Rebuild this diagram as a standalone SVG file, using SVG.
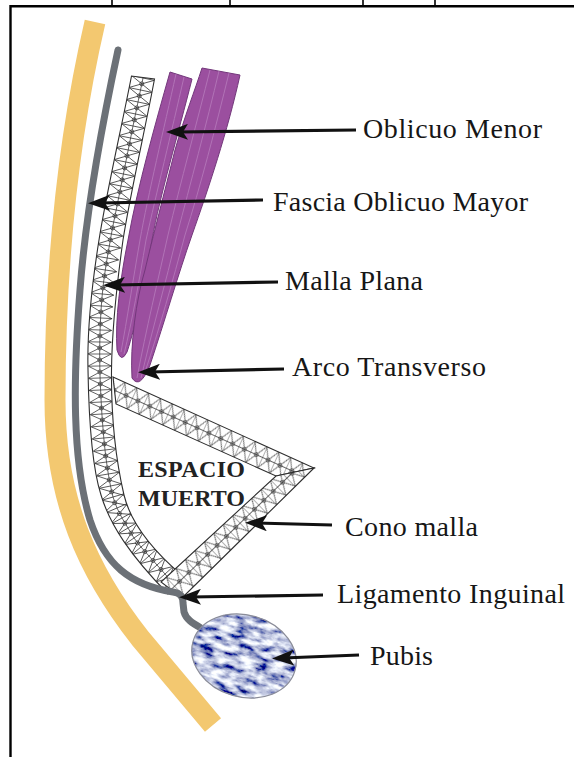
<svg xmlns="http://www.w3.org/2000/svg" width="574" height="757" viewBox="0 0 574 757">
  <defs>
    <style>
      .lbl{font-family:"Liberation Serif","Times New Roman",serif;font-size:28px;fill:#161616}
      .zone{font-family:"Liberation Serif","Times New Roman",serif;font-size:24px;font-weight:bold;fill:#222}
      .lead{stroke:#111;stroke-width:3.2;fill:none;marker-end:url(#head)}
      .frame{stroke:#000;stroke-width:2.4;fill:none}
      .tick{stroke:#000;stroke-width:1.6}
      .edge{stroke:#2e2e2e;stroke-width:1.1}
      .web{fill:none;stroke:#333;stroke-width:0.75}
      .muscle{fill:#9b4f9f;stroke:#73377b;stroke-width:1}
      .fiber{fill:none;stroke:#b173b6;stroke-width:1}
    </style>

    <!-- arrowhead for the leader lines -->
    <marker id="head" viewBox="0 -8 22 16" refX="11" refY="0" markerWidth="22" markerHeight="16" markerUnits="userSpaceOnUse" orient="auto">
      <path d="M0,-8 L22,0 L0,8 L5,0 Z" fill="#111"/>
    </marker>

    <!-- one mesh cell: cross bar, centre strand, X brace and knot -->
    <g id="tile">
      <rect width="13" height="23" fill="#fff"/>
      <path class="web" d="M0,0V23M0,11.5H13M0,0L13,23M13,0L0,23"/>
      <circle class="web" cx="6.5" cy="11.5" r="2"/>
    </g>
    <pattern id="meshUpper" patternUnits="userSpaceOnUse" width="13" height="23" patternTransform="translate(113,377) rotate(24.4)">
      <use href="#tile"/>
    </pattern>
    <pattern id="meshLower" patternUnits="userSpaceOnUse" width="13" height="23" patternTransform="translate(314,468) rotate(136.1)">
      <use href="#tile"/>
    </pattern>

    <!-- cell stamped along the curved flat mesh -->
    <marker id="cell" markerUnits="userSpaceOnUse" orient="auto" viewBox="-1 -12 14 24" refX="0" refY="0" markerWidth="14" markerHeight="24" overflow="visible">
      <path class="web" d="M0,-11.5V11.5M0,-11.5L12,11.5M12,-11.5L0,11.5"/>
      <circle class="web" cx="6" cy="0" r="2"/>
    </marker>

    <path id="flatBand" d="M131.5,76 C122,125 106,195 99,240 C91,290 87,330 88,370 C89,430 93,470 101,495 C110,525 130,555 168,594 L181.5,575 C150,548 130,520 124,495 C117,465 111,425 111.5,370 C112,330 116,290 123,240 C130,195 146,125 154.5,79 Z"/>
    <clipPath id="flatClip"><use href="#flatBand"/></clipPath>

    <path id="stripL" d="M170,72 L192,79 C178,135 160,195 152,240 C144,285 136,325 127,352 Q121,364 117,350 C115,320 120,280 128,240 C138,185 155,125 170,72 Z"/>
    <path id="stripR" d="M202,68 L240,75 C228,130 208,190 192,235 C178,275 165,320 150,365 Q140,390 132,378 C130,345 136,300 145,270 C152,240 165,190 175,150 C185,115 195,90 202,68 Z"/>
    <clipPath id="clipL"><use href="#stripL"/></clipPath>
    <clipPath id="clipR"><use href="#stripR"/></clipPath>

    <!-- mottled bone texture -->
    <filter id="bone" x="-5%" y="-5%" width="110%" height="110%">
      <feTurbulence type="fractalNoise" baseFrequency="0.07 0.16" numOctaves="4" seed="11" result="noise"/>
      <feColorMatrix in="noise" type="matrix" values="2.3 0 0 0 -0.66  2.3 0 0 0 -0.62  1.7 0 0 0 -0.13  0 0 0 0 1" result="tint"/>
      <feComposite in="tint" in2="SourceGraphic" operator="in"/>
    </filter>
  </defs>

  <rect width="574" height="757" fill="#fff"/>

  <!-- page frame -->
  <g id="frame">
    <path class="frame" d="M10.5,757 V6.2 H574"/>
    <path class="tick" d="M112,0V6M230,0V6M363,0V6M435,0V6"/>
  </g>

  <!-- outer skin layer -->
  <g id="skin">
    <path d="M95,22 C70,130 55,260 55,400 C55,500 88,572 140,638 L213,725" fill="none" stroke="#f3c870" stroke-width="21"/>
  </g>

  <!-- flat mesh -->
  <g id="malla-plana">
    <use href="#flatBand" fill="#fff"/>
    <g clip-path="url(#flatClip)">
      <polyline class="web" marker-start="url(#cell)" marker-mid="url(#cell)" points="143,78 140.5,90 138,102 135.5,114 133,126 130.6,138 128.2,150 125.8,162 123.4,174 121,186 118.6,198 116.2,210 113.7,222 111.4,234 109.3,246 107.2,258 105.3,270 103.6,282 102.3,294 101.3,306 100.6,318 100.1,330 99.8,342 99.7,354 99.8,366 100.1,378 100.6,390 101.2,402 101.9,414 102.8,426 103.8,438 105,450 106.5,462 108.3,474 110.5,486 113,497 117,508 122,518 128,528 134,538 141,547 149,556 157,565 165,574 173,583"/>
    </g>
    <use href="#flatBand" fill="none" class="edge"/>
  </g>

  <!-- mesh cone -->
  <g id="cono-malla">
    <polygon class="edge" fill="url(#meshUpper)" points="113,377 314,468 276,476 116,404"/>
    <polygon class="edge" fill="url(#meshLower)" points="314,468 182,598 161,582 276,476"/>
  </g>

  <!-- external oblique fascia and inguinal ligament -->
  <g id="fascia-oblicuo-mayor">
    <path d="M118,50 C103,120 86,210 80,290 C73,380 72,460 90,520 C105,565 130,585 173,592 C180,593 183,596 183,603 L184,612 C186,619 192,623 201,628" fill="none" stroke="#6c7177" stroke-width="7" stroke-linecap="round" stroke-linejoin="round"/>
  </g>

  <!-- internal oblique muscle -->
  <g id="oblicuo-menor">
    <use href="#stripL" class="muscle"/>
    <g clip-path="url(#clipL)">
      <path class="fiber" d="M176,74 C164,128 148,195 140,240 C133,280 127,320 121,352"/>
      <path class="fiber" d="M184,77 C172,130 156,195 146,240 C139,282 132,322 124,354"/>
    </g>
    <use href="#stripR" class="muscle"/>
    <g clip-path="url(#clipR)">
      <path class="fiber" d="M210,70 C198,118 180,185 168,235 C158,280 146,330 137,378"/>
      <path class="fiber" d="M219,71 C207,122 190,185 177,235 C166,282 152,330 141,378"/>
      <path class="fiber" d="M229,73 C216,126 200,188 185,235 C173,280 159,330 145,372"/>
    </g>
  </g>

  <!-- pubic bone -->
  <g id="pubis">
    <ellipse cx="244" cy="656" rx="53" ry="41" transform="rotate(16 244 656)" fill="#000" filter="url(#bone)"/>
    <ellipse cx="244" cy="656" rx="53" ry="41" transform="rotate(16 244 656)" fill="none" stroke="#8a8c98" stroke-width="1.2"/>
  </g>

  <!-- dead space label -->
  <g id="espacio-muerto">
    <text class="zone" x="138" y="477" textLength="107" lengthAdjust="spacing">ESPACIO</text>
    <text class="zone" x="138" y="506" textLength="107" lengthAdjust="spacing">MUERTO</text>
  </g>

  <!-- leader lines -->
  <g id="connectors">
    <line class="lead" x1="356" y1="130" x2="177" y2="132"/>
    <line class="lead" x1="263" y1="200" x2="99" y2="203"/>
    <line class="lead" x1="278" y1="282" x2="114" y2="285"/>
    <line class="lead" x1="284" y1="369" x2="149" y2="372"/>
    <line class="lead" x1="332" y1="525" x2="256" y2="523"/>
    <line class="lead" x1="323" y1="595" x2="190" y2="597"/>
    <line class="lead" x1="359" y1="655" x2="283" y2="658"/>
  </g>

  <!-- labels -->
  <g id="labels">
    <text class="lbl" x="363" y="138" textLength="179" lengthAdjust="spacing">Oblicuo Menor</text>
    <text class="lbl" x="273" y="211" textLength="255" lengthAdjust="spacing">Fascia Oblicuo Mayor</text>
    <text class="lbl" x="285" y="290" textLength="138" lengthAdjust="spacing">Malla Plana</text>
    <text class="lbl" x="292" y="376" textLength="194" lengthAdjust="spacing">Arco Transverso</text>
    <text class="lbl" x="345" y="536" textLength="133" lengthAdjust="spacing">Cono malla</text>
    <text class="lbl" x="337" y="603" textLength="228" lengthAdjust="spacing">Ligamento Inguinal</text>
    <text class="lbl" x="370" y="665" textLength="63" lengthAdjust="spacing">Pubis</text>
  </g>
</svg>
